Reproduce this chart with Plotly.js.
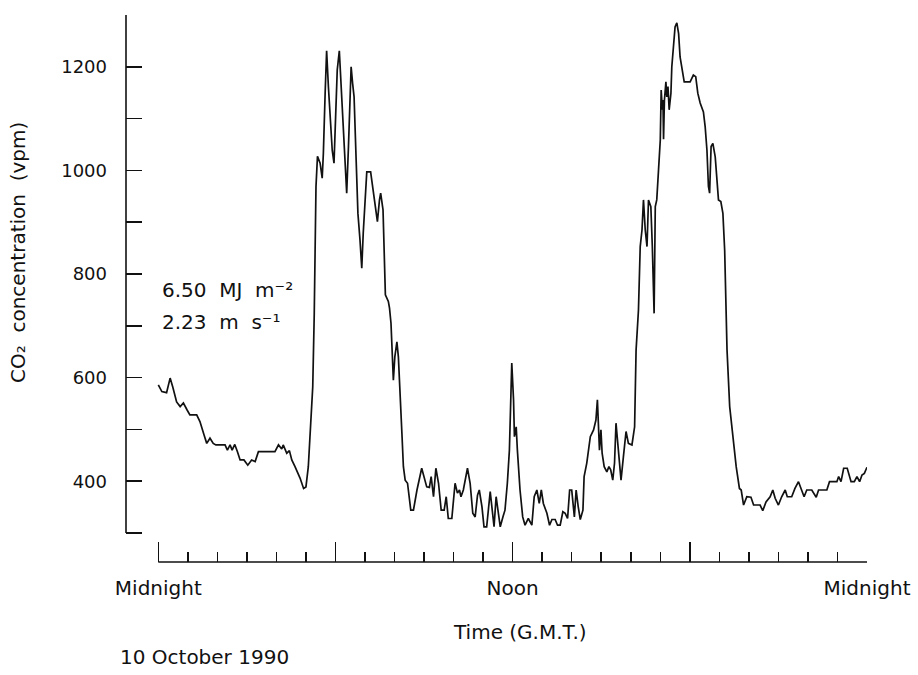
<!DOCTYPE html>
<html>
<head>
<meta charset="utf-8">
<script src="https://cdn.plot.ly/plotly-3.0.1.min.js"></script>
<style>html,body{margin:0;padding:0;background:#fff;}#chart{width:918px;height:675px;}</style>
</head>
<body>
<div id="chart"></div>
<script>
// Time of day (hours, G.M.T.)
const hours = [
0.00,0.12,0.28,0.40,0.49,0.62,0.74,0.85,0.98,1.07,1.30,1.41,1.55,1.64,1.75,1.86,1.95,2.26,2.34,2.43,
2.50,2.59,2.68,2.77,2.90,3.03,3.16,3.28,3.39,3.95,4.07,4.18,4.23,4.35,4.44,4.52,4.63,4.80,4.92,5.00,
5.08,5.16,5.23,5.28,5.34,5.39,5.48,5.55,5.59,5.65,5.70,5.76,5.84,5.89,5.95,6.02,6.06,6.13,6.19,6.27,
6.34,6.38,6.44,6.49,6.53,6.58,6.63,6.70,6.76,6.83,6.89,6.94,7.00,7.06,7.19,7.26,7.34,7.42,7.49,7.53,
7.61,7.65,7.69,7.79,7.83,7.88,7.93,7.96,8.01,8.08,8.13,8.19,8.25,8.30,8.36,8.44,8.55,8.64,8.76,8.92,
9.09,9.18,9.24,9.32,9.40,9.49,9.58,9.68,9.75,9.82,9.94,10.05,10.13,10.20,10.25,10.33,10.47,10.56,10.65,10.73,
10.81,10.87,10.96,11.03,11.12,11.24,11.29,11.37,11.44,11.52,11.58,11.67,11.74,11.82,11.89,11.97,12.03,12.06,12.12,12.16,
12.25,12.34,12.42,12.53,12.65,12.73,12.82,12.90,12.97,13.04,13.16,13.25,13.33,13.44,13.52,13.61,13.70,13.78,13.86,13.93,
14.00,14.09,14.15,14.22,14.29,14.38,14.42,14.51,14.63,14.74,14.82,14.87,14.91,14.94,14.99,15.03,15.10,15.19,15.26,15.32,
15.39,15.45,15.50,15.56,15.62,15.67,15.75,15.84,15.92,16.04,16.13,16.18,16.26,16.32,16.38,16.43,16.49,16.55,16.60,16.68,
16.73,16.79,16.83,16.88,16.94,17.00,17.03,17.07,17.09,17.11,17.14,17.19,17.22,17.26,17.30,17.36,17.39,17.45,17.50,17.56,
17.62,17.67,17.73,17.81,18.01,18.12,18.20,18.27,18.35,18.46,18.52,18.58,18.63,18.67,18.72,18.78,18.86,18.92,18.97,19.05,
19.12,19.18,19.26,19.35,19.46,19.57,19.68,19.74,19.82,19.93,20.07,20.16,20.38,20.47,20.58,20.72,20.81,20.89,21.00,21.11,
21.23,21.30,21.45,21.56,21.68,21.79,21.87,21.96,22.13,22.28,22.36,22.64,22.73,22.98,23.04,23.12,23.21,23.33,23.46,23.57,
23.66,23.75,23.83,23.91,24.00
];
// CO2 concentration (vpm)
const co2 = [
586,573,571,599,582,553,544,551,537,528,528,515,489,473,483,473,470,470,460,470,
460,471,457,441,441,431,441,438,457,457,470,462,470,454,459,441,428,406,386,389,
428,518,582,720,969,1027,1014,985,1033,1149,1231,1162,1078,1039,1014,1123,1194,1231,1162,1065,
994,956,1046,1120,1200,1168,1142,1020,917,866,811,879,943,997,997,969,930,901,943,956,
924,853,760,747,734,705,634,595,640,669,640,576,492,428,402,396,344,344,383,425,
389,388,409,370,425,396,344,344,370,328,328,396,377,383,370,383,425,396,338,331,
373,383,351,312,312,380,351,312,370,331,312,331,344,396,460,628,557,486,505,460,
383,331,315,328,315,370,383,357,383,357,338,315,326,326,315,315,341,338,328,383,
383,331,383,351,326,344,409,435,486,499,518,557,512,460,499,454,428,418,428,422,
402,435,512,473,422,402,447,496,473,470,505,653,730,853,885,943,885,853,943,930,
853,724,930,943,1001,1059,1155,1117,1136,1060,1136,1171,1142,1162,1117,1149,1200,1239,1277,1285,
1264,1219,1200,1171,1171,1184,1181,1149,1130,1113,1084,1039,969,956,1046,1052,1026,981,943,940,
917,846,653,544,480,428,386,383,354,370,369,354,354,343,360,370,383,367,354,370,
383,370,370,386,399,383,370,383,383,369,383,383,399,399,409,399,425,425,399,399,
409,399,412,415,427
];
// x axis: labelled long ticks, unlabelled long ticks, hourly short ticks
const xLabelVals = [0, 12, 24];
const xLabelText = ['Midnight', 'Noon', 'Midnight'];
const xLongVals = [6, 18];
const xMinorVals = [1,2,3,4,5,7,8,9,10,11,13,14,15,16,17,19,20,21,22,23];
// y axis
const yLabelVals = [400, 600, 800, 1000, 1200];
const yLabelText = ['400', '600', '800', '1000', '1200'];
const yMinorVals = [300, 500, 700, 900, 1100, 1300];
const yTitle = 'CO\u2082\u00a0 concentration\u00a0 (vpm)';
const xTitle = 'Time (G.M.T.)';
const dateText = '10 October 1990';
const note1 = '6.50\u00a0 MJ\u00a0 m\u207b\u00b2';
const note2 = '2.23\u00a0 m\u00a0 s\u207b\u00b9';

const FONT = 'DejaVu Sans, Liberation Sans, Arial, sans-serif';
const INK = '#111111';

const trace = {
  x: hours, y: co2, type: 'scatter', mode: 'lines',
  line: {color: INK, width: 1.7, shape: 'linear'},
  hoverinfo: 'skip', showlegend: false
};
// empty helper trace so that the overlaying axis for the 6 h / 18 h ticks exists
const helper = {x: [], y: [], type: 'scatter', mode: 'lines', xaxis: 'x2', yaxis: 'y', showlegend: false, hoverinfo: 'skip'};

// plot area: left 126, right 867, top 15, bottom 562
const L = 126, R = 867, T = 15, B = 562;
const px = v => (v - L) / (R - L);
const py = v => (B - v) / (B - T);
const XR = [-1.094, 24];

const layout = {
  width: 918, height: 675,
  margin: {l: L, r: 918 - R, t: T, b: 675 - B, pad: 0},
  paper_bgcolor: '#ffffff', plot_bgcolor: 'rgba(0,0,0,0)',
  font: {family: FONT, color: INK, size: 18},
  showlegend: false,
  xaxis: {
    range: XR, fixedrange: true,
    showgrid: false, zeroline: false, showline: false,
    tickmode: 'array', tickvals: xLabelVals, ticktext: xLabelText,
    ticks: 'inside', ticklen: 20, tickwidth: 1.5, tickcolor: INK,
    tickfont: {family: FONT, size: 20, color: INK},
    ticklabelstandoff: 12,
    minor: {tickmode: 'array', tickvals: xMinorVals, ticks: 'inside', ticklen: 10, tickwidth: 1.5, tickcolor: INK, showgrid: false}
  },
  xaxis2: {
    overlaying: 'x', anchor: 'y', side: 'bottom',
    range: XR, fixedrange: true,
    showgrid: false, zeroline: false, showline: false, showticklabels: false,
    tickmode: 'array', tickvals: xLongVals,
    ticks: 'inside', ticklen: 20, tickwidth: 1.5, tickcolor: INK
  },
  yaxis: {
    range: [244, 1300], fixedrange: true,
    showgrid: false, zeroline: false, showline: false,
    tickmode: 'array', tickvals: yLabelVals, ticktext: yLabelText,
    ticks: 'inside', ticklen: 16, tickwidth: 1.5, tickcolor: INK,
    tickfont: {family: FONT, size: 18, color: INK},
    ticklabelstandoff: 18,
    minor: {tickmode: 'array', tickvals: yMinorVals, ticks: 'inside', ticklen: 16, tickwidth: 1.5, tickcolor: INK, showgrid: false}
  },
  shapes: [
    {type: 'line', xref: 'paper', yref: 'y', x0: 0, x1: 0, y0: 300, y1: 1300, line: {color: INK, width: 1.6}},
    {type: 'line', xref: 'x', yref: 'paper', x0: 0, x1: 24, y0: 0, y1: 0, line: {color: INK, width: 1.6}}
  ],
  annotations: [
    {text: yTitle, xref: 'paper', yref: 'paper', x: px(18), y: py(253), textangle: -90,
     xanchor: 'center', yanchor: 'middle', showarrow: false, font: {family: FONT, size: 20, color: INK}},
    {text: xTitle, xref: 'paper', yref: 'paper', x: px(520), y: py(632),
     xanchor: 'center', yanchor: 'middle', showarrow: false, font: {family: FONT, size: 20, color: INK}},
    {text: dateText, xref: 'paper', yref: 'paper', x: px(118), y: py(657),
     xanchor: 'left', yanchor: 'middle', showarrow: false, font: {family: FONT, size: 20, color: INK}},
    {text: note1, xref: 'paper', yref: 'paper', x: px(160), y: py(290),
     xanchor: 'left', yanchor: 'middle', showarrow: false, font: {family: FONT, size: 20, color: INK}},
    {text: note2, xref: 'paper', yref: 'paper', x: px(160), y: py(322),
     xanchor: 'left', yanchor: 'middle', showarrow: false, font: {family: FONT, size: 20, color: INK}}
  ]
};

Plotly.newPlot('chart', [trace, helper], layout, {staticPlot: true, displayModeBar: false});
</script>
</body>
</html>
